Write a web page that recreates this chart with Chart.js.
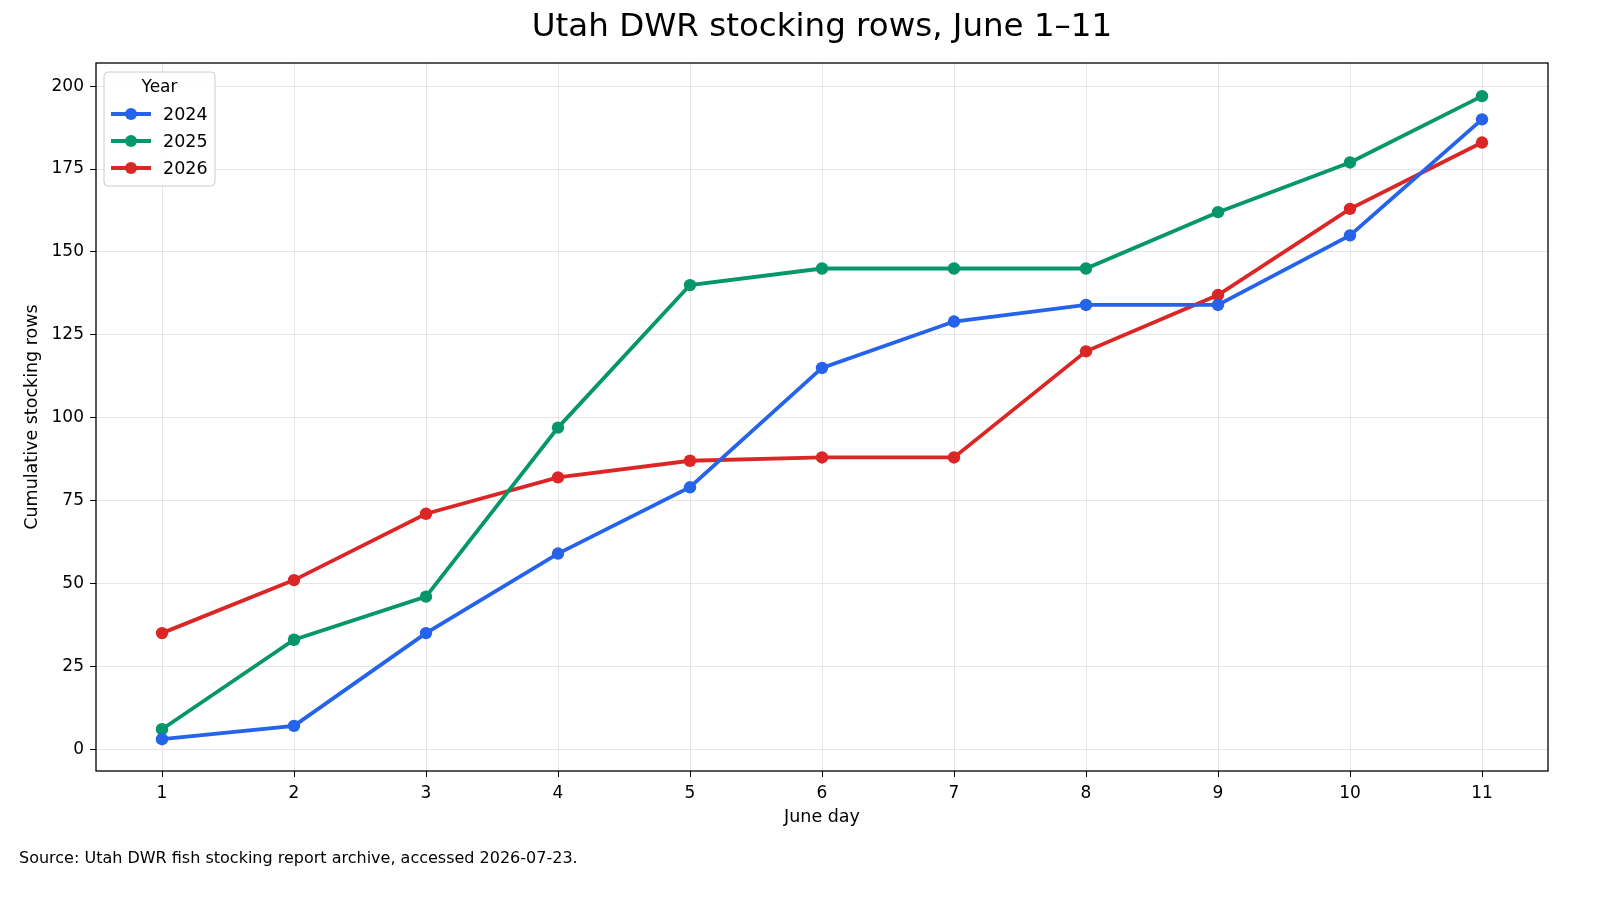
<!DOCTYPE html>
<html>
<head>
<meta charset="utf-8">
<script src="https://cdn.jsdelivr.net/npm/chart.js@4/dist/chart.umd.min.js"></script>
<style>
 html,body{margin:0;padding:0;background:#fff;}
 #wrap{width:1600px;height:900px;position:relative;}
</style>
</head>
<body>
<div id="wrap"><canvas id="stockingChart" width="1600" height="900"></canvas></div>
<script>
const days=[1,2,3,4,5,6,7,8,9,10,11];
const years=['2024','2025','2026'];
const rows2024=[3,7,35,59,79,115,129,134,134,155,190];
const rows2025=[6,33,46,97,140,145,145,145,162,177,197];
const rows2026=[35,51,71,82,87,88,88,120,137,163,183];
const yTicks=[0,25,50,75,100,125,150,175,200];
const colores=['#2563eb','#059669','#dc2626'];
const titulo='Utah DWR stocking rows, June 1–11';
const sourceText='Source: Utah DWR fish stocking report archive, accessed 2026-07-23.';

const FONT='"DejaVu Sans", sans-serif';

function puntos(vals){
 return days.map(function(d,i){ return {x:d,y:vals[i]}; });
}

//marco, titulo, leyenda y nota al pie
const extras={
 id:'extras',
 afterDraw(chart){
  const c=chart.ctx, a=chart.chartArea;
  c.save();
  c.strokeStyle='#000';
  c.lineWidth=1.3;
  c.strokeRect(a.left,a.top,a.right-a.left,a.bottom-a.top);

  c.fillStyle='#000';
  c.font='32.5px '+FONT;
  c.textAlign='center';c.textBaseline='middle';
  c.fillText(titulo,(a.left+a.right)/2,28);

  // leyenda
  const lx=104, ly=72, lw=111, lh=114;
  c.fillStyle='rgba(255,255,255,0.85)';
  c.strokeStyle='#cccccc';
  c.lineWidth=1;
  c.beginPath();
  c.roundRect(lx,ly,lw,lh,4);
  c.fill();c.stroke();
  c.fillStyle='#000';
  c.font='17px '+FONT;
  c.textAlign='center';c.textBaseline='middle';
  c.fillText('Year',lx+lw/2,88);
  chart.data.datasets.forEach(function(ds,i){
   const y=114+i*27;
   c.strokeStyle=ds.borderColor;
   c.lineWidth=4;
   c.beginPath();c.moveTo(111,y);c.lineTo(151,y);c.stroke();
   c.fillStyle=ds.borderColor;
   c.beginPath();c.arc(131,y,6,0,Math.PI*2);c.fill();
   c.fillStyle='#000';
   c.textAlign='left';
   c.font='17.5px '+FONT;
   c.fillText(ds.label,163,y+1);
  });

  c.font='16px '+FONT;
  c.textAlign='left';c.textBaseline='middle';
  c.fillStyle='#000';
  c.fillText(sourceText,19,859);
  c.restore();
 }
};

new Chart(document.getElementById('stockingChart'),{
 type:'line',
 data:{
  datasets:[
   {label:years[0],data:puntos(rows2024),borderColor:colores[0],backgroundColor:colores[0]},
   {label:years[1],data:puntos(rows2025),borderColor:colores[1],backgroundColor:colores[1]},
   {label:years[2],data:puntos(rows2026),borderColor:colores[2],backgroundColor:colores[2]}
  ]
 },
 options:{
  responsive:false,
  animation:false,
  devicePixelRatio:1,
  elements:{
   line:{borderWidth:3.8,tension:0},
   point:{radius:6.2,borderWidth:0,hoverRadius:6.2}
  },
  layout:{padding:{top:63,right:52,bottom:72,left:22}},
  scales:{
   x:{
    type:'linear',min:0.5,max:11.5,
    ticks:{color:'#000',font:{family:FONT,size:17},padding:6},
    afterBuildTicks:function(s){ s.ticks=days.map(function(d){return {value:d};}); },
    grid:{color:'#e6e6e6',tickColor:'#000',tickLength:6,lineWidth:1},
    border:{display:false},
    title:{display:true,text:'June day',color:'#000',font:{family:FONT,size:17.5},padding:{top:2,bottom:0}},
    afterFit:function(s){ s.height=57; }
   },
   y:{
    min:-6.6,max:207,
    ticks:{color:'#000',font:{family:FONT,size:17},padding:6},
    afterBuildTicks:function(s){ s.ticks=yTicks.map(function(v){return {value:v};}); },
    grid:{color:'#e6e6e6',tickColor:'#000',tickLength:6,lineWidth:1},
    border:{display:false},
    title:{display:true,text:'Cumulative stocking rows',color:'#000',font:{family:FONT,size:17.5},padding:{top:0,bottom:4}},
    afterFit:function(s){ s.width=74; }
   }
  },
  plugins:{
   legend:{display:false},
   tooltip:{enabled:false},
   title:{display:false}
  }
 },
 plugins:[extras]
});
</script>
</body>
</html>
